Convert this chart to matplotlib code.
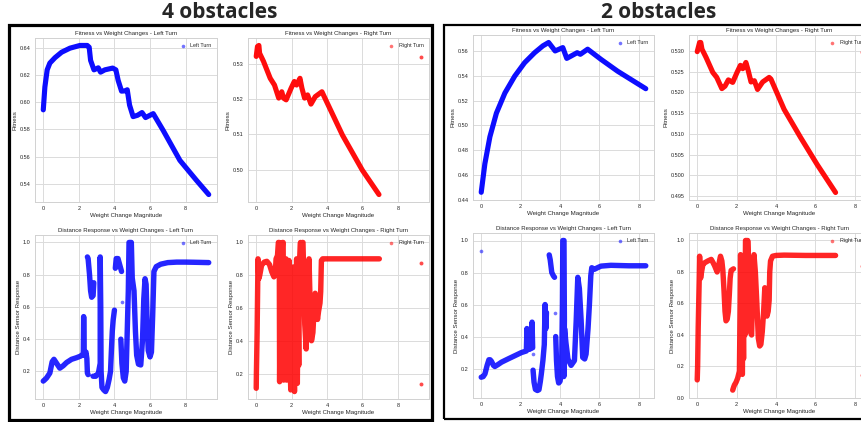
import matplotlib
matplotlib.use('Agg')
import matplotlib.pyplot as plt
import numpy as np
import seaborn as sns
from matplotlib.lines import Line2D
from matplotlib.patches import Rectangle
from matplotlib.ticker import FormatStrFormatter

nan = np.nan

# ---------------- 4 obstacles ----------------
fit4_left_x = [0, 0.09, 0.22, 0.37, 0.66, 1.03, 1.5, 2.06, 2.47, 2.58, 2.66, 2.85, 3.09, 3.22, 3.46,
               3.9, 4.08, 4.21, 4.4, 4.6, 4.72, 4.85, 5.05, 5.3, 5.55, 5.75, 6.18, 6.74, 7.68, 8.61, 9.3]
fit4_left_y = [0.5945, 0.6113, 0.624, 0.629, 0.633, 0.637, 0.640, 0.642, 0.642, 0.6407, 0.631, 0.624,
               0.6255, 0.6223, 0.624, 0.6253, 0.624, 0.6162, 0.6083, 0.6085, 0.6093, 0.598, 0.5895,
               0.5905, 0.5925, 0.5888, 0.5917, 0.5793, 0.5572, 0.5425, 0.532]

fit4_right_x = [0, 0.07, 0.15, 0.19, 0.41, 0.79, 1.03, 1.27, 1.44, 1.54, 1.69, 1.97, 2.15, 2.28, 2.47,
                2.58, 2.73, 2.9, 3.09, 3.33, 3.71, 3.84, 4.87, 5.99, 6.93]
fit4_right_y = [0.5321, 0.5349, 0.5352, 0.533, 0.5307, 0.5259, 0.524, 0.5203, 0.5221, 0.5203, 0.5198,
                0.5231, 0.525, 0.524, 0.5259, 0.5231, 0.5203, 0.5212, 0.5186, 0.5207, 0.5221, 0.5207,
                0.5098, 0.4999, 0.493]
fit4_right_out_x = [9.29]
fit4_right_out_y = [0.532]

dist4_left_x = [0, 0.1, 0.19, 0.37, 0.5, 0.6, 0.75, 0.93, 1.12, 1.31, 1.59, 1.87, 2.1, 2.25, 2.27, 2.3,
                2.4, 2.45, 2.48, 2.52, nan,
                2.48, 2.52, 2.6, 2.66, 2.72, 2.8, 2.84, nan,
                2.8, 2.95, 3.1, 3.2, 3.2, 3.23, 3.25, 3.3, 3.4, 3.5, 3.6, 3.7, 3.78, 3.83, 3.88, 3.93, 4.0, nan,
                4.05, 4.1, 4.2, 4.3, 4.4, nan,
                4.36, 4.42, 4.5, 4.58, 4.66, 4.72, 4.78, 4.82, 4.9, 4.95, 5.0, 5.1, 5.18, 5.25, 5.35, 5.48,
                5.58, 5.65, 5.72, 5.78, 5.84, 5.9, 6.0, 6.08, 6.15, 6.22, 6.35, 6.6, 7.0, 7.5, 8.0, 8.5, 9.3]
dist4_left_y = [0.14, 0.15, 0.16, 0.19, 0.26, 0.275, 0.25, 0.22, 0.235, 0.255, 0.275, 0.285, 0.295, 0.31,
                0.54, 0.3, 0.32, 0.28, 0.19, 0.18, nan,
                0.91, 0.9, 0.8, 0.7, 0.66, 0.67, 0.75, nan,
                0.17, 0.17, 0.19, 0.25, 0.91, 0.6, 0.2, 0.1, 0.085, 0.075, 0.1, 0.15, 0.2, 0.33, 0.45, 0.52, 0.58, nan,
                0.84, 0.9, 0.9, 0.86, 0.82, nan,
                0.4, 0.25, 0.16, 0.14, 0.2, 0.45, 0.7, 1.0, 1.0, 1.0, 0.78, 0.7, 0.45, 0.3, 0.245, 0.24,
                0.4, 0.65, 0.775, 0.74, 0.5, 0.33, 0.29, 0.32, 0.55, 0.82, 0.85, 0.865, 0.875, 0.878, 0.878, 0.877, 0.875]
dist4_left_pts_x = [4.4]
dist4_left_pts_y = [0.63]

dist4_right_x = [0, 0.01, 0.05, 0.1, 0.15, 0.2, 0.3, 0.45, 0.6, 0.75, 0.88, 1.0, 1.07, 1.12, 1.2, 1.25,
                 1.3, 1.32, 1.36, 1.4, 1.45, 1.48, 1.52, 1.55, 1.6, 1.64, 1.68, 1.72, 1.76, 1.8, 1.85,
                 1.9, 1.95, 2.0, 2.04, 2.08, 2.12, 2.16, 2.2, 2.24, 2.28, 2.32, 2.36, 2.4, 2.45, 2.5,
                 2.56, 2.6, 2.64, 2.68, 2.74, 2.82, 2.9, 2.98, 3.05, 3.12, 3.2, 3.28, 3.33, 3.4, 3.46,
                 3.52, 3.6, 3.64, 3.68, 3.75, 3.9, 4.5, 5.5, 6.95]
dist4_right_y = [0.11, 0.2, 0.45, 0.9, 0.78, 0.8, 0.86, 0.88, 0.885, 0.865, 0.82, 0.79, 0.8, 0.9, 0.92, 1.0,
                 1.0, 0.15, 0.8, 0.2, 0.9, 1.0, 1.0, 0.16, 0.7, 0.3, 0.9, 0.16, 0.6, 0.25, 0.89,
                 0.3, 0.1, 0.6, 0.2, 0.85, 0.3, 0.09, 0.5, 0.2, 0.9, 0.14, 0.6, 0.25, 0.9, 1.0,
                 0.6, 1.0, 1.0, 0.8, 0.5, 0.35, 0.7, 0.9, 0.6, 0.4, 0.45, 0.62, 0.69, 0.6, 0.53,
                 0.58, 0.63, 0.7, 0.89, 0.9, 0.9, 0.9, 0.9, 0.9]
dist4_right_out_x = [9.29, 9.29]
dist4_right_out_y = [0.877, 0.139]

# ---------------- 2 obstacles ----------------
fit2_left_x = [0, 0.185, 0.44, 0.77, 1.2, 1.7, 2.2, 2.71, 3.13, 3.42, 3.55, 3.75, 4.14, 4.34, 4.56,
               4.87, 5.03, 5.4, 6.08, 6.92, 8.35]
fit2_left_y = [0.4462, 0.4692, 0.4909, 0.5099, 0.5261, 0.5397, 0.5505, 0.5586, 0.5641, 0.5668, 0.5641,
               0.56, 0.5627, 0.554, 0.5559, 0.5586, 0.5573, 0.5614, 0.5532, 0.5437, 0.5296]

fit2_right_x = [0, 0.12, 0.18, 0.24, 0.45, 0.79, 0.99, 1.25, 1.41, 1.58, 1.8, 2.02, 2.19, 2.31, 2.47,
                2.59, 2.73, 2.9, 3.06, 3.32, 3.65, 3.74, 4.41, 5.25, 6.09, 7.02]
fit2_right_y = [0.5298, 0.532, 0.532, 0.5304, 0.5284, 0.5248, 0.5236, 0.5209, 0.5215, 0.523, 0.5224,
                0.5248, 0.5265, 0.5257, 0.5272, 0.5252, 0.5225, 0.5228, 0.5207, 0.5225, 0.5236, 0.5232,
                0.5159, 0.5091, 0.5026, 0.4959]
fit2_right_out_x = [8.35]
fit2_right_out_y = [0.5298]

dist2_left_x = [0, 0.1, 0.19, 0.3, 0.39, 0.45, 0.52, 0.62, 0.69, 0.85, 1.03, 1.36, 1.7, 2.04, 2.29, 2.32,
                2.36, 2.45, 2.55, 2.58, 2.61, nan,
                2.63, 2.68, 2.75, 2.85, 2.93, 3.0, 3.05, 3.13, 3.2, 3.24, 3.28, 3.31, nan,
                3.45, 3.5, 3.58, 3.66, 3.72, nan,
                3.78, 3.82, 3.87, 3.93, 4.0, 4.08, 4.12, 4.14, 4.2, 4.22, 4.19, 4.23, 4.3, 4.4, 4.56, 4.73,
                4.82, 4.9, 4.98, 5.07, 5.15, 5.25, 5.32, 5.42, 5.49, 5.56, 5.61, 5.74, 5.9, 6.08, 6.58, 7.5, 8.35]
dist2_left_y = [0.146, 0.15, 0.167, 0.22, 0.255, 0.255, 0.245, 0.22, 0.213, 0.225, 0.24, 0.26, 0.28, 0.30,
                0.31, 0.45, 0.33, 0.32, 0.33, 0.49, 0.33, nan,
                0.19, 0.115, 0.07, 0.063, 0.068, 0.12, 0.167, 0.25, 0.35, 0.6, 0.45, 0.55, nan,
                0.91, 0.88, 0.8, 0.78, 0.77, nan,
                0.4, 0.25, 0.15, 0.11, 0.12, 0.2, 0.6, 1.0, 1.0, 0.5, 0.15, 0.45, 0.36, 0.26, 0.22, 0.25,
                0.5, 0.77, 0.7, 0.5, 0.27, 0.26, 0.29, 0.45, 0.6, 0.78, 0.83, 0.82, 0.83, 0.84, 0.845, 0.842, 0.842]
dist2_left_pts_x = [0, 2.63, 3.75]
dist2_left_pts_y = [0.936, 0.29, 0.55]

dist2_right_x = [0, 0.02, 0.05, 0.1, 0.12, 0.17, 0.22, 0.29, 0.4, 0.54, 0.71, 0.8, 0.88, 1.01, 1.1, 1.18,
                 1.25, 1.3, 1.36, 1.41, 1.46, 1.52, 1.58, 1.63, 1.67, 1.72, 1.84, nan,
                 1.8, 1.85, 1.89, 1.97, 2.05, 2.1, 2.14, 2.18, 2.2, 2.23, 2.26, 2.29, 2.32, 2.35, 2.38,
                 2.42, 2.45, 2.5, 2.53, 2.56, 2.6, 2.65, 2.7, 2.76, 2.82, 2.88, 2.95, 3.03, 3.1, 3.17,
                 3.23, 3.3, 3.37, 3.43, 3.48, 3.54, 3.6, 3.65, 3.68, 3.72, 3.82, 4.0, 4.41, 5.5, 7.02]
dist2_right_y = [0.115, 0.2, 0.45, 0.75, 0.9, 0.76, 0.8, 0.85, 0.86, 0.87, 0.88, 0.86, 0.84, 0.80, 0.85,
                 0.9, 0.87, 0.81, 0.68, 0.55, 0.49, 0.5, 0.55, 0.66, 0.76, 0.81, 0.82, nan,
                 0.05, 0.07, 0.083, 0.1, 0.125, 0.15, 0.17, 0.6, 0.91, 0.3, 0.85, 0.15, 0.6, 0.25, 0.8,
                 0.4, 1.0, 1.0, 0.5, 1.0, 0.85, 0.6, 0.42, 0.4, 0.7, 0.91, 0.8, 0.59, 0.38, 0.33,
                 0.34, 0.42, 0.55, 0.70, 0.6, 0.52, 0.55, 0.62, 0.8, 0.87, 0.9, 0.905, 0.907, 0.905, 0.905]
dist2_right_out_x = [8.35, 8.35]
dist2_right_out_y = [0.84, 0.147]

x_ticks = [0, 2, 4, 6, 8]
fit4_left_ticks = [0.54, 0.56, 0.58, 0.60, 0.62, 0.64]
fit4_right_ticks = [0.50, 0.51, 0.52, 0.53]
fit2_left_ticks = [0.44, 0.46, 0.48, 0.50, 0.52, 0.54, 0.56]
fit2_right_ticks = [0.495, 0.500, 0.505, 0.510, 0.515, 0.520, 0.525, 0.530]
dist_ticks = [0.2, 0.4, 0.6, 0.8, 1.0]
dist_ticks0 = [0.0, 0.2, 0.4, 0.6, 0.8, 1.0]

sns.set_style('whitegrid')
plt.rcParams['font.family'] = ['Liberation Sans', 'DejaVu Sans']

W, H = 862, 422
fig = plt.figure(figsize=(W / 100, H / 100), dpi=100)


def add_ax(l, t, r, b):
    # pixel box (top-left origin) -> figure fraction
    return fig.add_axes([l / W, 1 - b / H, (r - l) / W, (b - t) / H])


def draw(ax, x, y, color, label, title, ylabel, yticks, yfmt, lw=3.7, alpha=0.95,
         pts=None, outl=None):
    ax.plot(x, y, color=color, lw=lw, alpha=alpha, solid_capstyle='round', solid_joinstyle='round')
    if pts is not None:
        ax.scatter(pts[0], pts[1], color=color, s=7, alpha=0.55, linewidths=0)
    if outl is not None:
        ax.scatter(outl[0], outl[1], color=color, s=8, alpha=0.7, linewidths=0)
    ax.set_title(title, fontsize=4.3, pad=2.5, color='.15')
    ax.set_xlabel('Weight Change Magnitude', fontsize=4.4, labelpad=1, color='.15')
    ax.set_ylabel(ylabel, fontsize=4.4, labelpad=1.5, color='.15')
    ax.set_xticks(x_ticks)
    ax.set_yticks(yticks)
    ax.yaxis.set_major_formatter(FormatStrFormatter(yfmt))
    ax.tick_params(labelsize=4, pad=3, length=0, colors='.15')
    ax.grid(True, color='.86', lw=0.7)
    for s in ax.spines.values():
        s.set_color('.82')
        s.set_linewidth(0.7)
    h = Line2D([], [], ls='', marker='o', ms=2.6, color=color, alpha=0.55, mew=0)
    ax.legend(handles=[h], labels=[label], loc='upper right', fontsize=3.9, frameon=False,
              handletextpad=0.9, handlelength=1.0, borderaxespad=0.6)


# 4 obstacles panel
ax = add_ax(35, 38, 217, 202)
draw(ax, fit4_left_x, fit4_left_y, 'blue', 'Left Turn', 'Fitness vs Weight Changes - Left Turn',
     'Fitness', fit4_left_ticks, '%.2f')
ax = add_ax(248, 38, 429, 202)
draw(ax, fit4_right_x, fit4_right_y, 'red', 'Right Turn', 'Fitness vs Weight Changes - Right Turn',
     'Fitness', fit4_right_ticks, '%.2f', outl=(fit4_right_out_x, fit4_right_out_y))
ax = add_ax(35, 235, 217, 399)
draw(ax, dist4_left_x, dist4_left_y, 'blue', 'Left Turn', 'Distance Response vs Weight Changes - Left Turn',
     'Distance Sensor Response', dist_ticks, '%.1f', lw=3.9, alpha=0.85,
     pts=(dist4_left_pts_x, dist4_left_pts_y))
ax = add_ax(248, 235, 429, 399)
draw(ax, dist4_right_x, dist4_right_y, 'red', 'Right Turn', 'Distance Response vs Weight Changes - Right Turn',
     'Distance Sensor Response', dist_ticks, '%.1f', lw=3.9, alpha=0.85,
     outl=(dist4_right_out_x, dist4_right_out_y))

# 2 obstacles panel (right column is cut by the image edge)
ax = add_ax(473, 35, 654, 200)
draw(ax, fit2_left_x, fit2_left_y, 'blue', 'Left Turn', 'Fitness vs Weight Changes - Left Turn',
     'Fitness', fit2_left_ticks, '%.2f')
ax = add_ax(689, 35, 870, 200)
draw(ax, fit2_right_x, fit2_right_y, 'red', 'Right Turn', 'Fitness vs Weight Changes - Right Turn',
     'Fitness', fit2_right_ticks, '%.3f', outl=(fit2_right_out_x, fit2_right_out_y))
ax = add_ax(473, 233, 654, 398)
draw(ax, dist2_left_x, dist2_left_y, 'blue', 'Left Turn', 'Distance Response vs Weight Changes - Left Turn',
     'Distance Sensor Response', dist_ticks, '%.1f', lw=3.9, alpha=0.85,
     pts=(dist2_left_pts_x, dist2_left_pts_y))
ax = add_ax(689, 233, 870, 398)
draw(ax, dist2_right_x, dist2_right_y, 'red', 'Right Turn', 'Distance Response vs Weight Changes - Right Turn',
     'Distance Sensor Response', dist_ticks0, '%.1f', lw=3.9, alpha=0.85,
     outl=(dist2_right_out_x, dist2_right_out_y))

# frames and headings
fig.add_artist(Rectangle((9 / W, 1 - 420 / H), 423 / W, 395 / H, transform=fig.transFigure,
                         fill=False, ec='black', lw=2.3))
fig.add_artist(Rectangle((444 / W, 1 - 419 / H), 430 / W, 394 / H, transform=fig.transFigure,
                         fill=False, ec='black', lw=1.6))
fig.text(220 / W, 1 - 13 / H, '4 obstacles', ha='center', va='center', fontsize=15,
         fontweight='bold', family=['Open Sans', 'DejaVu Sans'])
fig.text(659 / W, 1 - 13 / H, '2 obstacles', ha='center', va='center', fontsize=15,
         fontweight='bold', family=['Open Sans', 'DejaVu Sans'])

fig.savefig('out.png', dpi=100)
